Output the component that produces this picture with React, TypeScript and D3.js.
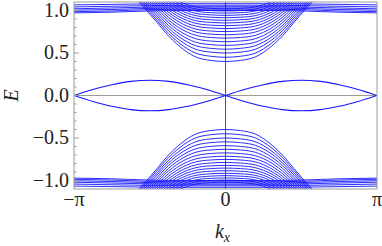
import React from 'react'
import * as d3 from 'd3'

// kx sample points, in units of pi (0 .. 1); the negative half is the mirror image
const kBulk = [0, 0.1, 0.2, 0.3, 0.4, 0.45, 0.5, 0.55, 0.6, 0.65]
// upper bulk bands (the lower bands are E -> -E)
const bulkBands: number[][] = [
  [0.400, 0.413, 0.456, 0.574, 0.748, 0.856, 0.959, 1.058, 1.15],
  [0.450, 0.462, 0.501, 0.610, 0.776, 0.880, 0.981, 1.077, 1.16],
  [0.500, 0.511, 0.546, 0.648, 0.806, 0.908, 1.005, 1.100],
  [0.545, 0.555, 0.588, 0.683, 0.835, 0.934, 1.028, 1.121],
  [0.590, 0.599, 0.629, 0.719, 0.865, 0.962, 1.053, 1.14],
  [0.633, 0.641, 0.670, 0.755, 0.896, 0.989, 1.078, 1.16],
  [0.675, 0.683, 0.710, 0.790, 0.927, 1.017, 1.104],
  [0.715, 0.722, 0.748, 0.825, 0.957, 1.045, 1.130],
  [0.752, 0.759, 0.783, 0.858, 0.986, 1.071, 1.154],
  [0.788, 0.795, 0.818, 0.890, 1.014, 1.097, 1.17],
  [0.822, 0.828, 0.851, 0.920, 1.041, 1.122],
  [0.854, 0.860, 0.882, 0.949, 1.066, 1.146],
  [0.885, 0.891, 0.912, 0.977, 1.092, 1.17],
  [0.915, 0.921, 0.941, 1.004, 1.116],
  [0.943, 0.949, 0.968, 1.030, 1.139],
  [0.970, 0.975, 0.995, 1.055, 1.162],
  [0.995, 1.000, 1.019, 1.078, 1.18],
  [1.020, 1.025, 1.044, 1.102, 1.2],
]

const kFlat = [0, 0.25, 0.5, 0.75, 1]
const flatBands: number[][] = [
  [1.000, 1.000, 0.995, 0.980, 0.972],
  [1.015, 1.015, 1.010, 0.995, 0.986],
  [1.030, 1.030, 1.025, 1.012, 1.003],
  [1.045, 1.045, 1.040, 1.030, 1.020],
  [1.062, 1.062, 1.058, 1.050, 1.042],
  [1.080, 1.080, 1.078, 1.072, 1.066],
]

// in-gap edge state, one hump between kx = 0 and pi
const kEdge = [0, 0.125, 0.25, 0.375, 0.5, 0.625, 0.75, 0.875, 1]
const edgeState = [0, 0.07, 0.127, 0.166, 0.18, 0.166, 0.127, 0.07, 0]

const yMajor = [-1, -0.5, 0, 0.5, 1]
const yMajorLabels = ['\u22121.0', '\u22120.5', '0.0', '0.5', '1.0']
const yMinor = [-0.9, -0.8, -0.7, -0.6, -0.4, -0.3, -0.2, -0.1, 0.1, 0.2, 0.3, 0.4, 0.6, 0.7, 0.8, 0.9]
const xTicks = [-1, 0, 1]
const xTickLabels = ['\u2212\u03c0', '0', '\u03c0']

const W = 382
const H = 246
const left = 74
const right = 377
const top = 2
const bottom = 189
const blue = '#1414ff'
const gray = '#9a9a9a'
const fontFamily = 'Times New Roman, Liberation Serif, DejaVu Serif, serif'
const fontSize = 20

// mirror a half curve (k >= 0) onto the full -pi..pi range
const fullCurve = (ks: number[], es: number[], sign: number) => {
  const pos = es.map((e, i) => [ks[i], sign * e] as [number, number])
  const neg = pos.slice(1).map(([k, e]) => [-k, e] as [number, number]).reverse()
  return [...neg, ...pos]
}

const App = () => {
  const x = d3.scaleLinear().domain([-1, 1]).range([left, right])
  const y = d3.scaleLinear().domain([-1.1, 1.1]).range([bottom, top])

  const line = d3.line<[number, number]>()
    .x(d => x(d[0]))
    .y(d => y(d[1]))
    .curve(d3.curveMonotoneX)

  const paths: string[] = []
  for (const sign of [1, -1]) {
    bulkBands.forEach(b => paths.push(line(fullCurve(kBulk.slice(0, b.length), b, sign)) || ''))
    flatBands.forEach(b => paths.push(line(fullCurve(kFlat, b, sign)) || ''))
  }

  // edge states: hump on both halves, up and down
  const edgePaths: string[] = []
  for (const sign of [1, -1]) {
    const half = edgeState.map((e, i) => [kEdge[i], sign * e] as [number, number])
    const negHalf = edgeState.map((e, i) => [kEdge[i] - 1, sign * e] as [number, number])
    edgePaths.push(line(negHalf) || '')
    edgePaths.push(line(half) || '')
  }

  return (
    <svg width={W} height={H} style={{ position: 'absolute', left: 0, top: 0, background: '#fff' }}
      fontFamily={fontFamily} fontSize={fontSize}>
      <defs>
        <clipPath id="plot">
          <rect x={left} y={top} width={right - left} height={bottom - top} />
        </clipPath>
      </defs>

      {/* zero lines */}
      <line x1={left} x2={right} y1={y(0)} y2={y(0)} stroke={gray} strokeWidth={1} />
      <line x1={x(0)} x2={x(0)} y1={top} y2={bottom} stroke="#555" strokeWidth={1} />

      <g clipPath="url(#plot)" fill="none" stroke={blue}>
        {paths.map((d, i) => <path key={i} d={d} strokeWidth={0.9} />)}
        {edgePaths.map((d, i) => <path key={'e' + i} d={d} strokeWidth={1.05} />)}
      </g>

      {/* frame */}
      <rect x={left} y={top} width={right - left} height={bottom - top} fill="none" stroke={gray} strokeWidth={1} />

      {yMajor.map((v, i) => (
        <g key={v}>
          <line x1={left} x2={left + 5} y1={y(v)} y2={y(v)} stroke={gray} />
          <text x={left - 5} y={y(v) + 6} textAnchor="end" fill="#222">
            {yMajorLabels[i]}
          </text>
        </g>
      ))}
      {yMinor.map(v => (
        <line key={v} x1={left} x2={left + 2.5} y1={y(v)} y2={y(v)} stroke={gray} />
      ))}

      {xTicks.map((v, i) => (
        <text key={v} x={x(v)} y={bottom + 17} textAnchor="middle" fill="#222">
          {xTickLabels[i]}
        </text>
      ))}

      <text x={13} y={y(0)} transform={`rotate(-90, 13, ${y(0)})`} textAnchor="middle" dominantBaseline="middle"
        fontStyle="italic" fill="#222">E</text>
      <text x={x(0) - 3} y={238} textAnchor="middle" fontStyle="italic" fill="#222">
        k<tspan fontSize={14} dy={4}>x</tspan>
      </text>
    </svg>
  )
}

export default App
